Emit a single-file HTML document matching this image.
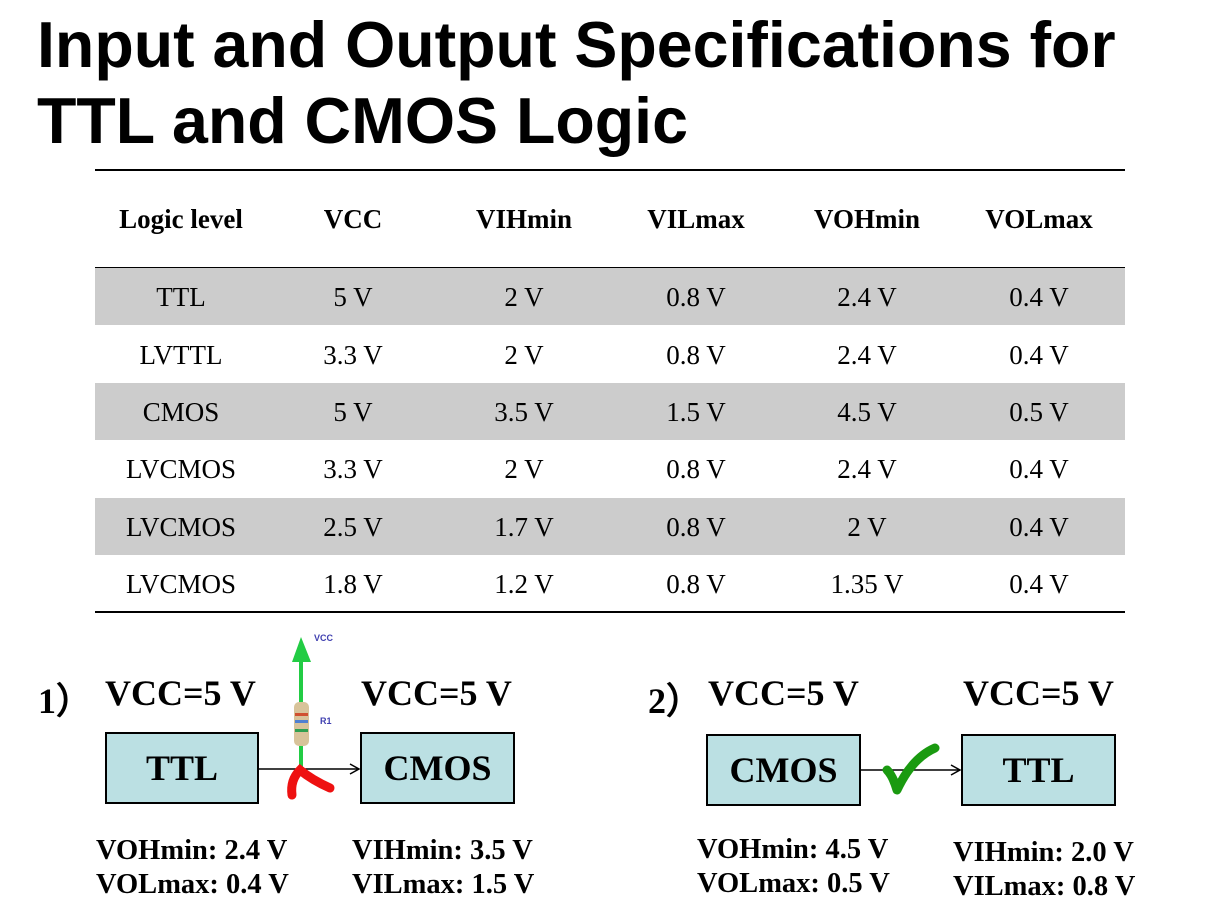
<!DOCTYPE html>
<html><head><style>
body{margin:0;width:1205px;height:916px;background:#fff;position:relative;overflow:hidden;font-family:"Liberation Serif",serif}
.t{position:absolute;font-family:"Liberation Sans",sans-serif;font-weight:bold;font-size:64.5px;left:37px;line-height:76px;white-space:nowrap}
.c{position:absolute;width:172px;text-align:center;font-size:27px;line-height:27px}
.b{font-weight:bold}
.row{position:absolute;left:95px;width:1030px;height:57px;background:#cccccc}
.hl{position:absolute;left:95px;width:1030px;height:2px;background:#000}
.box{position:absolute;background:#bbe0e3;border:2px solid #000;box-sizing:border-box;font-weight:bold;font-size:36px;display:flex;align-items:center;justify-content:center}
.lbl{position:absolute;font-weight:bold;font-size:28.5px;line-height:34px;white-space:nowrap}
.v{position:absolute;font-weight:bold;font-size:36px;white-space:nowrap}
</style></head><body>
<div class="t" style="top:7px">Input and Output Specifications for</div>
<div class="t" style="top:83px">TTL and CMOS Logic</div>
<div class="hl" style="top:169px"></div>
<div class="hl" style="top:267px;height:1px"></div>
<div class="row" style="top:268px"></div>
<div class="row" style="top:383px"></div>
<div class="row" style="top:498px"></div>
<div class="hl" style="top:611px"></div>
<div class="v" style="left:38px;top:672px">1）</div>
<div class="v" style="left:105px;top:672px">VCC=5 V</div>
<div class="v" style="left:361px;top:672px">VCC=5 V</div>
<div class="v" style="left:648px;top:672px">2）</div>
<div class="v" style="left:708px;top:672px">VCC=5 V</div>
<div class="v" style="left:963px;top:672px">VCC=5 V</div>
<div class="box" style="left:105px;top:732px;width:154px;height:72px">TTL</div>
<div class="box" style="left:360px;top:732px;width:155px;height:72px">CMOS</div>
<div class="box" style="left:706px;top:734px;width:155px;height:72px">CMOS</div>
<div class="box" style="left:961px;top:734px;width:155px;height:72px">TTL</div>
<svg style="position:absolute;left:0;top:0" width="1205" height="916">
<line x1="259" y1="769" x2="359" y2="769" stroke="#000" stroke-width="1.5"/>
<polyline points="350,764 359,769 350,774" fill="none" stroke="#000" stroke-width="1.5"/>
<line x1="861" y1="770" x2="960" y2="770" stroke="#000" stroke-width="1.5"/>
<polyline points="951,765 960,770 951,775" fill="none" stroke="#000" stroke-width="1.5"/>
<line x1="301" y1="660" x2="301" y2="702" stroke="#22cc44" stroke-width="4"/>
<polygon points="301,637 292,662 311,662" fill="#22cc44"/>
<rect x="294" y="702" width="15" height="44" rx="5" fill="#d8c39a"/>
<rect x="295" y="713" width="13" height="3" fill="#d05030"/>
<rect x="295" y="720" width="13" height="3" fill="#5080d0"/>
<rect x="295" y="729" width="13" height="3" fill="#30a050"/>
<line x1="301" y1="746" x2="301" y2="768" stroke="#22cc44" stroke-width="4"/>
<path d="M292,795 Q290,780 300,770 Q312,780 330,788" fill="none" stroke="#ee1111" stroke-width="9" stroke-linecap="round"/>
<text x="314" y="641" font-family="Liberation Sans" font-weight="bold" font-size="9" fill="#4040b0">VCC</text>
<text x="320" y="724" font-family="Liberation Sans" font-weight="bold" font-size="9" fill="#4040b0">R1</text>
<path d="M887,770 Q893,776 897,790 Q912,758 935,748" fill="none" stroke="#1a9a10" stroke-width="9" stroke-linecap="round" stroke-linejoin="round"/>
</svg>
<div class="lbl" style="left:96px;top:834px">VOHmin: 2.4 V<br>VOLmax: 0.4 V</div>
<div class="lbl" style="left:352px;top:834px">VIHmin: 3.5 V<br>VILmax: 1.5 V</div>
<div class="lbl" style="left:697px;top:833px">VOHmin: 4.5 V<br>VOLmax: 0.5 V</div>
<div class="lbl" style="left:953px;top:836px">VIHmin: 2.0 V<br>VILmax: 0.8 V</div>
<div class="c b" style="left:95px;top:206px">Logic level</div>
<div class="c b" style="left:267px;top:206px">VCC</div>
<div class="c b" style="left:438px;top:206px">VIHmin</div>
<div class="c b" style="left:610px;top:206px">VILmax</div>
<div class="c b" style="left:781px;top:206px">VOHmin</div>
<div class="c b" style="left:953px;top:206px">VOLmax</div>
<div class="c" style="left:95px;top:284px">TTL</div><div class="c" style="left:267px;top:284px">5 V</div><div class="c" style="left:438px;top:284px">2 V</div><div class="c" style="left:610px;top:284px">0.8 V</div><div class="c" style="left:781px;top:284px">2.4 V</div><div class="c" style="left:953px;top:284px">0.4 V</div>
<div class="c" style="left:95px;top:342px">LVTTL</div><div class="c" style="left:267px;top:342px">3.3 V</div><div class="c" style="left:438px;top:342px">2 V</div><div class="c" style="left:610px;top:342px">0.8 V</div><div class="c" style="left:781px;top:342px">2.4 V</div><div class="c" style="left:953px;top:342px">0.4 V</div>
<div class="c" style="left:95px;top:399px">CMOS</div><div class="c" style="left:267px;top:399px">5 V</div><div class="c" style="left:438px;top:399px">3.5 V</div><div class="c" style="left:610px;top:399px">1.5 V</div><div class="c" style="left:781px;top:399px">4.5 V</div><div class="c" style="left:953px;top:399px">0.5 V</div>
<div class="c" style="left:95px;top:456px">LVCMOS</div><div class="c" style="left:267px;top:456px">3.3 V</div><div class="c" style="left:438px;top:456px">2 V</div><div class="c" style="left:610px;top:456px">0.8 V</div><div class="c" style="left:781px;top:456px">2.4 V</div><div class="c" style="left:953px;top:456px">0.4 V</div>
<div class="c" style="left:95px;top:514px">LVCMOS</div><div class="c" style="left:267px;top:514px">2.5 V</div><div class="c" style="left:438px;top:514px">1.7 V</div><div class="c" style="left:610px;top:514px">0.8 V</div><div class="c" style="left:781px;top:514px">2 V</div><div class="c" style="left:953px;top:514px">0.4 V</div>
<div class="c" style="left:95px;top:571px">LVCMOS</div><div class="c" style="left:267px;top:571px">1.8 V</div><div class="c" style="left:438px;top:571px">1.2 V</div><div class="c" style="left:610px;top:571px">0.8 V</div><div class="c" style="left:781px;top:571px">1.35 V</div><div class="c" style="left:953px;top:571px">0.4 V</div>
</body></html>
